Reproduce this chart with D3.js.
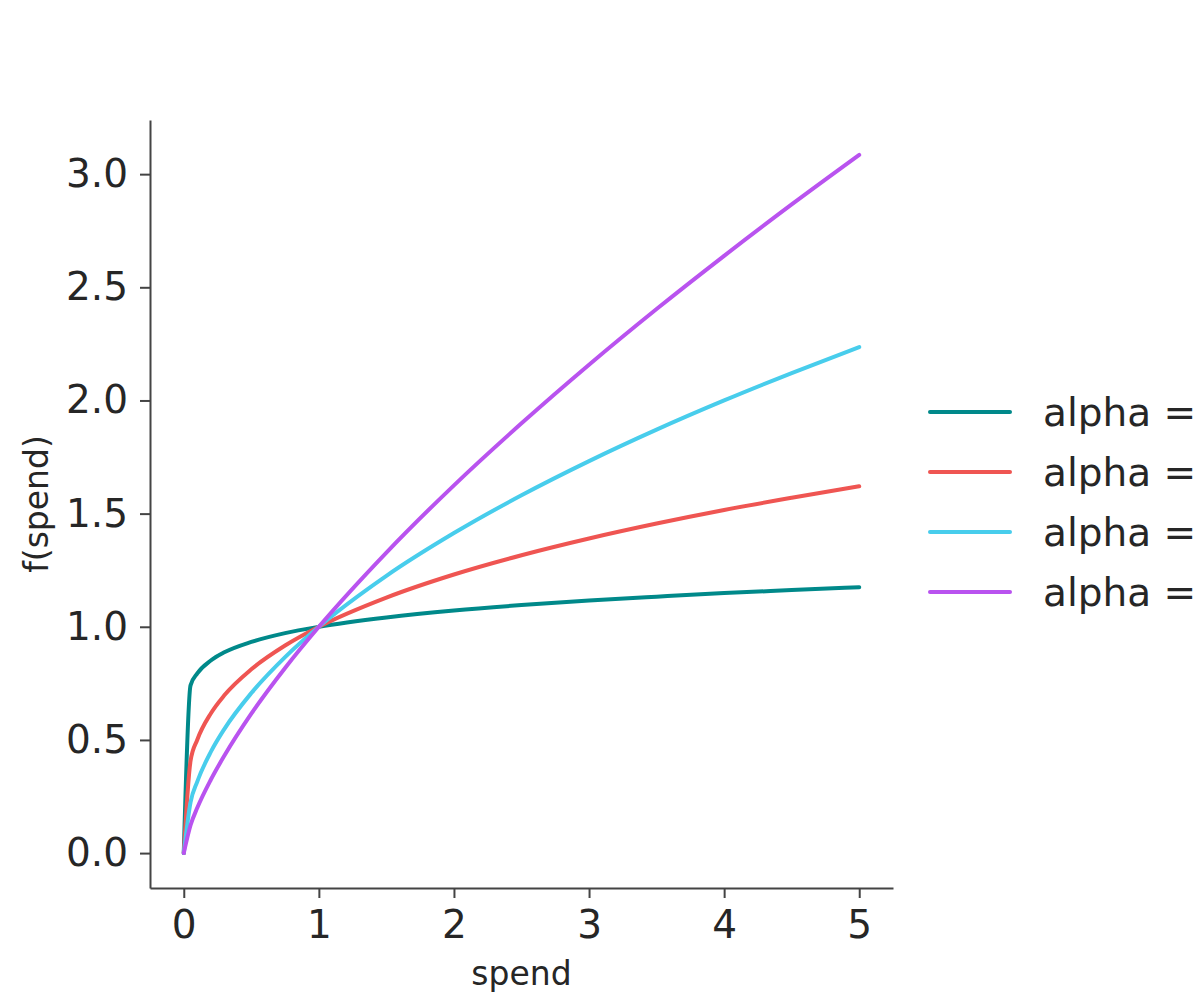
<!DOCTYPE html>
<html>
<head>
<meta charset="utf-8">
<script src="https://cdn.jsdelivr.net/npm/d3@7"></script>
<style>
  body { margin: 0; background: #fff; }
  svg { display: block; font-family: "DejaVu Sans", sans-serif; }
  .tick text { fill: #262626; }
</style>
</head>
<body>
<div id="chart"></div>
<script>
// spend values (x) and f(spend) for each alpha
const spend = [0, 0.05, 0.1, 0.2, 0.3, 0.5, 0.75, 1, 1.5, 2, 2.5, 3, 3.5, 4, 4.5, 5];
const alphaLabels = ["alpha = 0.1", "alpha = 0.3", "alpha = 0.5", "alpha = 0.7"];
const alpha01 = [0, 0.741, 0.794, 0.851, 0.887, 0.933, 0.972, 1, 1.041, 1.072, 1.096, 1.116, 1.133, 1.149, 1.162, 1.175];
const alpha03 = [0, 0.407, 0.501, 0.617, 0.697, 0.812, 0.917, 1, 1.129, 1.231, 1.316, 1.390, 1.456, 1.516, 1.570, 1.621];
const alpha05 = [0, 0.224, 0.316, 0.447, 0.548, 0.707, 0.866, 1, 1.225, 1.414, 1.581, 1.732, 1.871, 2.0, 2.121, 2.236];
const alpha07 = [0, 0.123, 0.200, 0.324, 0.430, 0.616, 0.818, 1, 1.328, 1.625, 1.899, 2.158, 2.404, 2.639, 2.866, 3.085];
const xTicks = [0, 1, 2, 3, 4, 5];
const yTicks = [0, 0.5, 1, 1.5, 2, 2.5, 3];

const seriesValues = [alpha01, alpha03, alpha05, alpha07];
const colors = ["#00898a", "#ef5552", "#48cdec", "#b953ef"];

const width = 1200, height = 1000;
const margin = { left: 150, right: 307, top: 120, bottom: 112 };

const svg = d3.select("#chart")
  .append("svg")
  .attr("width", width)
  .attr("height", height);

// matplotlib style 5% margins around the data
const xMin = 0, xMax = 5, yMin = 0, yMax = d3.max(alpha07);
const xPad = (xMax - xMin) * 0.05, yPad = (yMax - yMin) * 0.05;

const x = d3.scaleLinear()
  .domain([xMin - xPad, xMax + xPad])
  .range([margin.left, width - margin.right]);

const y = d3.scaleLinear()
  .domain([yMin - yPad, yMax + yPad])
  .range([height - margin.bottom, margin.top]);

// axes
const xAxis = svg.append("g")
  .attr("transform", `translate(0,${height - margin.bottom})`)
  .call(d3.axisBottom(x).tickValues(xTicks).tickFormat(d3.format("d")).tickSizeInner(10).tickSizeOuter(0).tickPadding(12));

const yAxis = svg.append("g")
  .attr("transform", `translate(${margin.left},0)`)
  .call(d3.axisLeft(y).tickValues(yTicks).tickFormat(d3.format(".1f")).tickSizeInner(10).tickSizeOuter(0).tickPadding(12));

[xAxis, yAxis].forEach((g) => {
  g.select(".domain").attr("stroke", "#444").attr("stroke-width", 2);
  g.selectAll(".tick line").attr("stroke", "#444").attr("stroke-width", 2);
  g.selectAll(".tick text").attr("font-size", 39).attr("font-family", "DejaVu Sans");
});

// axis labels
svg.append("text")
  .attr("x", (margin.left + width - margin.right) / 2)
  .attr("y", 985)
  .attr("text-anchor", "middle")
  .attr("font-size", 33)
  .attr("fill", "#262626")
  .text("spend");

svg.append("text")
  .attr("transform", `translate(48,${(margin.top + height - margin.bottom) / 2}) rotate(-90)`)
  .attr("text-anchor", "middle")
  .attr("font-size", 33)
  .attr("fill", "#262626")
  .text("f(spend)");

// curves
const line = d3.line()
  .x((d, i) => x(spend[i]))
  .y((d) => y(d))
  .curve(d3.curveMonotoneX);

svg.append("g")
  .selectAll("path")
  .data(seriesValues)
  .join("path")
  .attr("fill", "none")
  .attr("stroke", (d, i) => colors[i])
  .attr("stroke-width", 4)
  .attr("stroke-linejoin", "round")
  .attr("stroke-linecap", "round")
  .attr("d", line);

// legend
const legend = svg.append("g")
  .selectAll("g")
  .data(alphaLabels)
  .join("g")
  .attr("transform", (d, i) => `translate(930,${412 + i * 60})`);

legend.append("line")
  .attr("x1", 0)
  .attr("x2", 80)
  .attr("stroke", (d, i) => colors[i])
  .attr("stroke-width", 4)
  .attr("stroke-linecap", "round");

legend.append("text")
  .attr("x", 113)
  .attr("dy", "0.35em")
  .attr("font-size", 39)
  .attr("fill", "#262626")
  .text((d) => d);
</script>
</body>
</html>
